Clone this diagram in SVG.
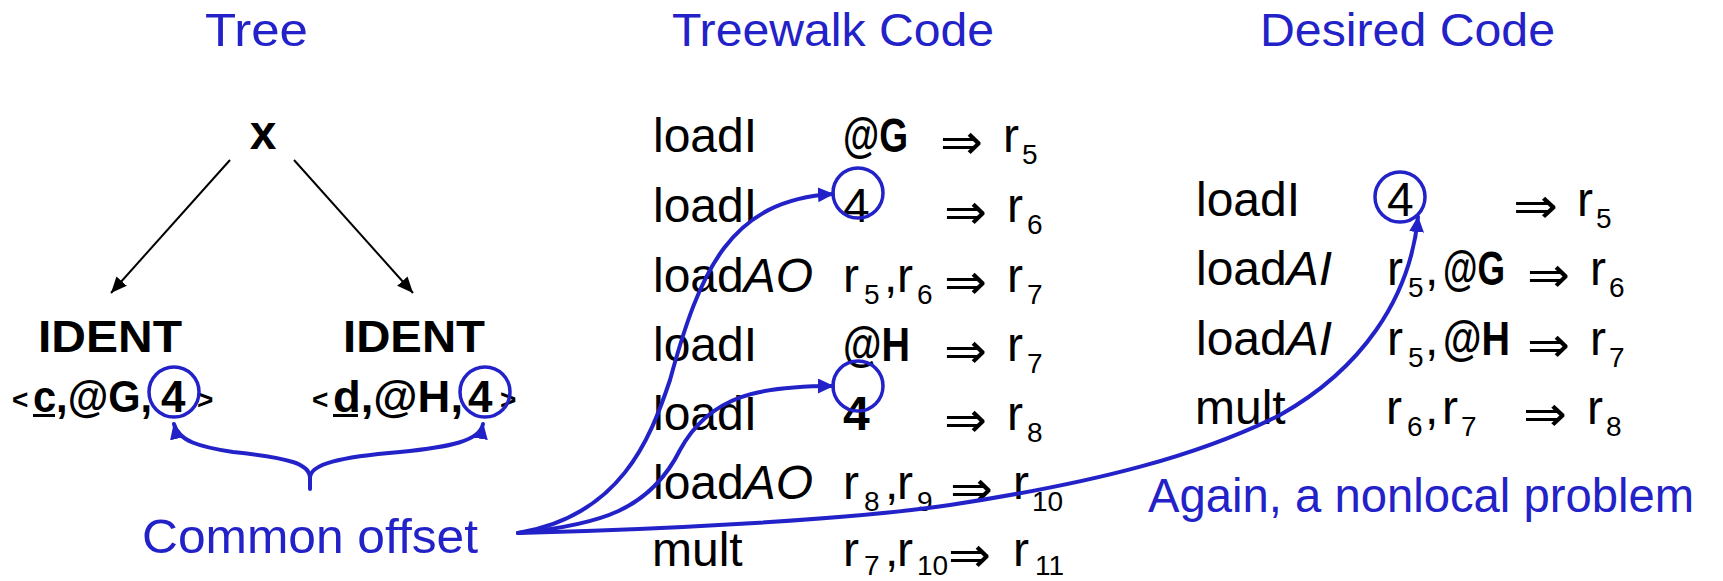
<svg xmlns="http://www.w3.org/2000/svg" width="1723" height="581" viewBox="0 0 1723 581">
  <style>
    text { font-family: "Liberation Sans", Arial, sans-serif; fill: #000; }
    .hd { font-size: 46px; fill: #2222c8; }
    .note { font-size: 48px; fill: #2222c8; }
    .c { font-size: 48px; }
    .b { font-weight: bold; }
    .i { font-style: italic; }
    .s { font-size: 28px; }
    .arr { font-family: "DejaVu Sans", sans-serif; font-size: 50px; }
    .tb { font-size: 44px; font-weight: bold; }
    .ang { font-size: 28px; font-weight: bold; }
    .ring { fill: none; stroke: #2222c8; stroke-width: 3.5; }
    .blk { fill: none; stroke: #000; stroke-width: 2; }
    .blu { fill: none; stroke: #2222c8; stroke-width: 4; stroke-linecap: round; }
  </style>
  <defs>
    <marker id="ah-black" markerUnits="userSpaceOnUse" markerWidth="18" markerHeight="14" refX="16" refY="7" orient="auto">
      <path d="M0,0 L16,7 L0,14 z" fill="#000"/>
    </marker>
    <marker id="ah-blue" markerUnits="userSpaceOnUse" markerWidth="18" markerHeight="16" refX="15" refY="7.5" orient="auto">
      <path d="M0,0 L16,7.5 L0,15 z" fill="#2222c8"/>
    </marker>
  </defs>

  <!-- column headings -->
  <g id="headings">
    <text class="hd" x="205" y="46" textLength="103" lengthAdjust="spacingAndGlyphs">Tree</text>
    <text class="hd" x="672" y="46" textLength="322" lengthAdjust="spacingAndGlyphs">Treewalk Code</text>
    <text class="hd" x="1260" y="46" textLength="295" lengthAdjust="spacingAndGlyphs">Desired Code</text>
  </g>

  <!-- expression tree -->
  <g id="node-mult">
    <text x="263" y="149" text-anchor="middle" style="font-size:48px;font-weight:bold">x</text>
  </g>
  <g id="node-ident-c">
    <text class="tb" x="38" y="352" textLength="144" lengthAdjust="spacingAndGlyphs">IDENT</text>
    <text class="ang" x="12" y="409">&lt;</text>
    <text class="tb" x="33" y="412" textLength="119" lengthAdjust="spacingAndGlyphs">c,@G,</text>
    <rect x="33" y="414" width="22" height="3"/>
    <text class="tb" x="161" y="412">4</text>
    <text class="ang" x="197" y="409">&gt;</text>
    <circle class="ring" cx="174" cy="392" r="25"/>
  </g>
  <g id="node-ident-d">
    <text class="tb" x="343" y="352" textLength="142" lengthAdjust="spacingAndGlyphs">IDENT</text>
    <text class="ang" x="312" y="409">&lt;</text>
    <text class="tb" x="333" y="412" textLength="130" lengthAdjust="spacingAndGlyphs">d,@H,</text>
    <rect x="333" y="414" width="25" height="3"/>
    <text class="tb" x="468" y="412">4</text>
    <text class="ang" x="500" y="409">&gt;</text>
    <circle class="ring" cx="485" cy="392" r="25"/>
  </g>

  <!-- treewalk code -->
  <g id="treewalk-code">
    <text class="c" x="653" y="152">loadI</text>
    <text class="c b" x="843" y="152" textLength="65" lengthAdjust="spacingAndGlyphs">@G</text>
    <text class="arr" x="940" y="159" textLength="43" lengthAdjust="spacingAndGlyphs">⇒</text>
    <text class="c" x="1003" y="152">r</text><text class="s" x="1022" y="164">5</text>

    <text class="c" x="653" y="222">loadI</text>
    <text class="c" x="843" y="222">4</text>
    <text class="arr" x="944" y="229" textLength="43" lengthAdjust="spacingAndGlyphs">⇒</text>
    <text class="c" x="1007" y="222">r</text><text class="s" x="1027" y="234">6</text>

    <text class="c" x="653" y="292">load<tspan class="i">AO</tspan></text>
    <text class="c" x="843" y="292">r</text><text class="s" x="864" y="304">5</text>
    <text class="c" x="884" y="292">,</text>
    <text class="c" x="897" y="292">r</text><text class="s" x="917" y="304">6</text>
    <text class="arr" x="944" y="299" textLength="43" lengthAdjust="spacingAndGlyphs">⇒</text>
    <text class="c" x="1007" y="292">r</text><text class="s" x="1027" y="304">7</text>

    <text class="c" x="653" y="361">loadI</text>
    <text class="c b" x="843" y="361" textLength="67" lengthAdjust="spacingAndGlyphs">@H</text>
    <text class="arr" x="944" y="368" textLength="43" lengthAdjust="spacingAndGlyphs">⇒</text>
    <text class="c" x="1007" y="361">r</text><text class="s" x="1027" y="373">7</text>

    <text class="c" x="653" y="430">loadI</text>
    <text class="c b" x="843" y="430">4</text>
    <text class="arr" x="944" y="437" textLength="43" lengthAdjust="spacingAndGlyphs">⇒</text>
    <text class="c" x="1007" y="430">r</text><text class="s" x="1027" y="442">8</text>

    <text class="c" x="653" y="499">load<tspan class="i">AO</tspan></text>
    <text class="c" x="843" y="499">r</text><text class="s" x="864" y="511">8</text>
    <text class="c" x="885" y="499">,</text>
    <text class="c" x="897" y="499">r</text><text class="s" x="917" y="511">9</text>
    <text class="arr" x="950" y="506" textLength="43" lengthAdjust="spacingAndGlyphs">⇒</text>
    <text class="c" x="1013" y="499">r</text><text class="s" x="1032" y="511">10</text>

    <text class="c" x="652" y="566">mult</text>
    <text class="c" x="843" y="566">r</text><text class="s" x="864" y="575">7</text>
    <text class="c" x="885" y="566">,</text>
    <text class="c" x="897" y="566">r</text><text class="s" x="917" y="575">10</text>
    <text class="arr" x="948" y="572" textLength="43" lengthAdjust="spacingAndGlyphs">⇒</text>
    <text class="c" x="1013" y="566">r</text><text class="s" x="1035" y="575">11</text>

    <circle class="ring" cx="858" cy="193" r="25"/>
    <circle class="ring" cx="858" cy="386" r="25"/>
  </g>

  <!-- desired code -->
  <g id="desired-code">
    <text class="c" x="1196" y="216">loadI</text>
    <text class="c" x="1387" y="216">4</text>
    <text class="arr" x="1513" y="223" textLength="45" lengthAdjust="spacingAndGlyphs">⇒</text>
    <text class="c" x="1577" y="216">r</text><text class="s" x="1596" y="228">5</text>

    <text class="c" x="1196" y="285">load<tspan class="i">AI</tspan></text>
    <text class="c" x="1387" y="285">r</text><text class="s" x="1408" y="297">5</text>
    <text class="c" x="1425" y="285">,</text>
    <text class="c b" x="1443" y="285" textLength="62" lengthAdjust="spacingAndGlyphs">@G</text>
    <text class="arr" x="1527" y="292" textLength="43" lengthAdjust="spacingAndGlyphs">⇒</text>
    <text class="c" x="1590" y="285">r</text><text class="s" x="1609" y="297">6</text>

    <text class="c" x="1196" y="355">load<tspan class="i">AI</tspan></text>
    <text class="c" x="1387" y="355">r</text><text class="s" x="1408" y="367">5</text>
    <text class="c" x="1425" y="355">,</text>
    <text class="c b" x="1443" y="355" textLength="67" lengthAdjust="spacingAndGlyphs">@H</text>
    <text class="arr" x="1527" y="362" textLength="43" lengthAdjust="spacingAndGlyphs">⇒</text>
    <text class="c" x="1590" y="355">r</text><text class="s" x="1609" y="367">7</text>

    <text class="c" x="1195" y="424">mult</text>
    <text class="c" x="1386" y="424">r</text><text class="s" x="1407" y="436">6</text>
    <text class="c" x="1425" y="424">,</text>
    <text class="c" x="1442" y="424">r</text><text class="s" x="1461" y="436">7</text>
    <text class="arr" x="1523" y="431" textLength="44" lengthAdjust="spacingAndGlyphs">⇒</text>
    <text class="c" x="1587" y="424">r</text><text class="s" x="1606" y="436">8</text>

    <circle class="ring" cx="1400" cy="197" r="25"/>
  </g>

  <!-- annotations -->
  <g id="label-common-offset">
    <text class="note" x="142" y="553" textLength="336" lengthAdjust="spacingAndGlyphs">Common offset</text>
  </g>
  <g id="label-nonlocal">
    <text class="note" x="1148" y="512" textLength="546" lengthAdjust="spacingAndGlyphs">Again, a nonlocal problem</text>
  </g>

  <!-- connectors -->
  <g id="connectors">
    <line class="blk" x1="230" y1="160" x2="111" y2="293" marker-end="url(#ah-black)"/>
    <line class="blk" x1="294" y1="160" x2="413" y2="293" marker-end="url(#ah-black)"/>

    <path class="blu" d="M310,489 L310,478 C310,464 290,458 233,452 C200,447 178,441 174,424" marker-end="url(#ah-blue)"/>
    <path class="blu" d="M310,478 C310,464 340,457 400,452 C450,447 480,441 483,424" marker-end="url(#ah-blue)"/>

    <path class="blu" d="M518,533 C620,516 650,440 670,380 C700,270 730,200 833,194" marker-end="url(#ah-blue)"/>
    <path class="blu" d="M518,533 C600,525 650,510 680,450 C710,395 760,386 833,386" marker-end="url(#ah-blue)"/>
    <path class="blu" d="M518,533 C650,530 850,520 950,505 C1100,482 1200,455 1280,415 C1360,370 1410,300 1418,217" marker-end="url(#ah-blue)"/>
  </g>
</svg>
